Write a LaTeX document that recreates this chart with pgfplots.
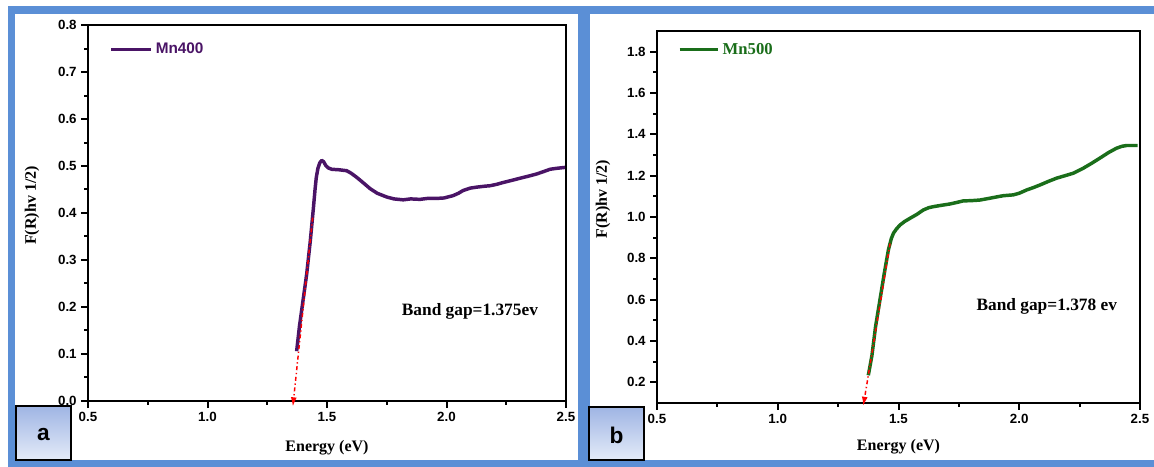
\documentclass[border=0pt]{standalone}
\usepackage{pgfplots}
\pgfplotsset{compat=1.18}
\usepackage{fontspec}
\setmainfont{Liberation Serif}
\newfontfamily\arial{Liberation Sans}
\usetikzlibrary{arrows.meta}
\definecolor{frameblue}{HTML}{5B8FD6}
\definecolor{boxtop}{HTML}{9FB5E4}
\definecolor{boxbot}{HTML}{E4EBF8}
\definecolor{mnpurple}{HTML}{4A1466}
\definecolor{mngreen}{HTML}{1A6E1A}

\pgfplotstableread{
x y
1.373 0.106
1.385 0.160
1.400 0.215
1.415 0.270
1.430 0.340
1.443 0.410
1.450 0.450
1.455 0.475
1.462 0.495
1.470 0.507
1.478 0.512
1.486 0.509
1.495 0.501
1.505 0.496
1.520 0.493
1.550 0.492
1.582 0.490
1.600 0.485
1.624 0.476
1.650 0.465
1.680 0.452
1.710 0.442
1.750 0.434
1.780 0.430
1.819 0.428
1.850 0.430
1.889 0.429
1.920 0.431
1.959 0.431
1.990 0.432
2.028 0.437
2.050 0.442
2.070 0.448
2.100 0.453
2.126 0.455
2.160 0.457
2.182 0.458
2.210 0.461
2.238 0.465
2.270 0.469
2.308 0.474
2.340 0.478
2.377 0.483
2.400 0.487
2.433 0.493
2.460 0.495
2.496 0.497
}\mnfour

\pgfplotstableread{
x y
1.375 0.234
1.390 0.330
1.405 0.470
1.423 0.598
1.440 0.720
1.458 0.840
1.470 0.895
1.479 0.921
1.490 0.940
1.506 0.961
1.525 0.978
1.548 0.994
1.575 1.012
1.603 1.034
1.625 1.045
1.644 1.050
1.680 1.057
1.713 1.063
1.740 1.070
1.768 1.078
1.800 1.079
1.837 1.082
1.879 1.091
1.910 1.098
1.934 1.103
1.975 1.107
2.000 1.115
2.031 1.131
2.060 1.143
2.086 1.155
2.120 1.172
2.155 1.188
2.190 1.200
2.224 1.212
2.265 1.236
2.300 1.260
2.334 1.285
2.370 1.312
2.403 1.333
2.425 1.342
2.445 1.346
2.490 1.346
}\mnfive

\pgfplotsset{
  panel/.style={
    scale only axis,
    anchor=south west,
    axis line style={line width=2pt},
    every tick/.style={line width=1.5pt, black},
    tick align=outside,
    tick pos=left,
    major tick length=5pt,
    minor tick length=3pt,
    xmin=0.5, xmax=2.5,
    xtick={0.5,1.0,1.5,2.0,2.5},
    minor x tick num=1,
    /pgf/number format/assume math mode=true,
    /pgf/number format/fixed,
    /pgf/number format/fixed zerofill,
    /pgf/number format/precision=1,
    tick label style={font=\arial\bfseries\fontsize{10}{12}\selectfont},
    label style={font=\bfseries\fontsize{12}{14}\selectfont},
    xlabel={Energy (eV)},
    ylabel={F(R)hv 1/2)},
    clip=false,
  }
}

\begin{document}
\begin{tikzpicture}[x=0.75pt,y=0.75pt]
% background and frame
\fill[white] (0,0) rectangle (1154,467);
\fill[frameblue] (8,453) rectangle (1154,461);
\fill[frameblue] (8,0) rectangle (15,461);
\fill[frameblue] (8,0) rectangle (1154,7);
\fill[frameblue] (578,0) rectangle (590,461);
% panel boxes
\shade[top color=boxtop, bottom color=boxbot, draw=black, line width=0.8pt] (16,7) rectangle (71,61);
\node[font=\arial\bfseries\fontsize{17}{20}\selectfont] at (43.5,32) {a};
\shade[top color=boxtop, bottom color=boxbot, draw=black, line width=0.8pt] (589,7) rectangle (644,60);
\node[font=\arial\bfseries\fontsize{17}{20}\selectfont] at (616.5,32) {b};

% left panel
\begin{axis}[panel,
  at={(66pt,49.5pt)}, width=358.5pt, height=282pt,
  ymin=0, ymax=0.8,
  ytick={0,0.1,0.2,0.3,0.4,0.5,0.6,0.7,0.8},
  minor y tick num=1,
  xlabel style={at={(rel axis cs:0.5,-0.125)}, anchor=center},
  ylabel style={at={(rel axis cs:-0.117,0.52)}, anchor=center},
  legend style={at={(rel axis cs:0.045,0.935)}, anchor=west, draw=none, fill=none,
    font=\arial\bfseries\fontsize{11.5}{13}\selectfont, text=mnpurple, inner sep=0pt},
  legend image code/.code={\draw[#1, line width=2.5pt] (0pt,0pt) -- (30pt,0pt);},
]
\addplot[mnpurple, line width=2.6pt, line join=round] table[x=x,y=y] {\mnfour};
\addlegendentry{Mn400}
\addplot[red, line width=1.1pt, dash pattern=on 3pt off 2pt on 1pt off 2pt, -{Latex[length=7pt,width=4.5pt]}, forget plot] coordinates {(1.44,0.39) (1.357,-0.012)};
\node[font=\bfseries\fontsize{13}{15}\selectfont] at (axis cs:2.098,0.191) {Band gap=1.375ev};
\end{axis}

% right panel
\begin{axis}[panel,
  at={(492.75pt,48pt)}, width=362.25pt, height=279pt,
  ymin=0.1, ymax=1.9,
  ytick={0.2,0.4,0.6,0.8,1.0,1.2,1.4,1.6,1.8},
  minor y tick num=1,
  xlabel style={at={(rel axis cs:0.5,-0.118)}, anchor=center},
  ylabel style={at={(rel axis cs:-0.112,0.548)}, anchor=center},
  legend style={at={(rel axis cs:0.043,0.95)}, anchor=west, draw=none, fill=none,
    font=\bfseries\fontsize{12.5}{14}\selectfont, text=mngreen, inner sep=0pt},
  legend image code/.code={\draw[#1, line width=2.5pt] (0pt,0pt) -- (29pt,0pt);},
]
\addplot[mngreen, line width=2.6pt, line join=round] table[x=x,y=y] {\mnfive};
\addlegendentry{Mn500}
\addplot[red, line width=1.1pt, dash pattern=on 3pt off 2pt on 1pt off 2pt, -{Latex[length=7pt,width=4.5pt]}, forget plot] coordinates {(1.465,0.872) (1.354,0.085)};
\node[font=\bfseries\fontsize{13}{15}\selectfont] at (axis cs:2.114,0.565) {Band gap=1.378 ev};
\end{axis}
\end{tikzpicture}
\end{document}
